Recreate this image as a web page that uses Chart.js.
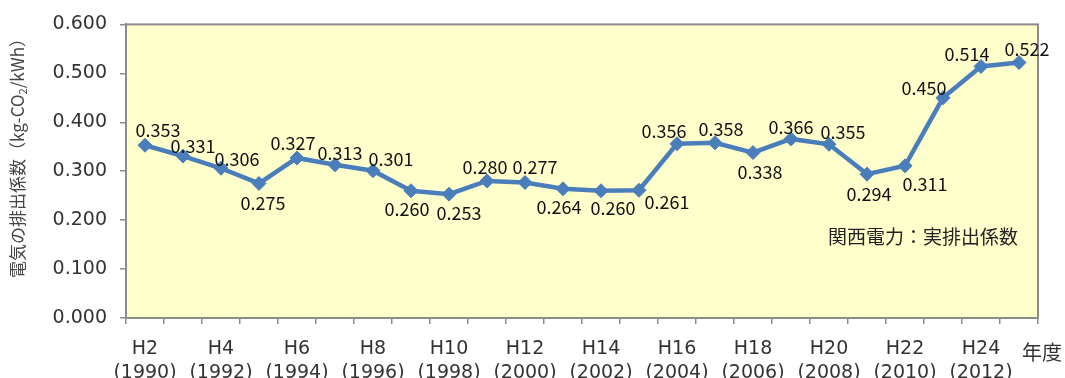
<!DOCTYPE html>
<html>
<head>
<meta charset="utf-8">
<script src="https://cdn.jsdelivr.net/npm/chart.js@4"></script>
<style>
html,body{margin:0;padding:0;background:#fff;}
#wrap{width:1065px;height:378px;}
</style>
</head>
<body>
<div id="wrap"><canvas id="c" width="1065" height="378"></canvas></div>
<script>
// ---- data ----
const eraLabels = ['H2','H3','H4','H5','H6','H7','H8','H9','H10','H11','H12','H13','H14','H15','H16','H17','H18','H19','H20','H21','H22','H23','H24','H25'];
const yearLabels = ['1990','1991','1992','1993','1994','1995','1996','1997','1998','1999','2000','2001','2002','2003','2004','2005','2006','2007','2008','2009','2010','2011','2012','2013'];
const emissionFactor = [0.353,0.331,0.306,0.275,0.327,0.313,0.301,0.260,0.253,0.280,0.277,0.264,0.260,0.261,0.356,0.358,0.338,0.366,0.355,0.294,0.311,0.450,0.514,0.522];
const yTicks = [0,0.1,0.2,0.3,0.4,0.5,0.6];
const seriesName = '関西電力：実排出係数';
const yTitleParts = ['電気の排出係数（kg-CO','2','/kWh）'];
const xUnit = '年度';

// ---- label placement (pixel offsets from each marker, style only) ----
const labelOffsets = [
  [13,-15],[10,-10],[16,-9],[4,20],[-4,-15],[5,-12],[18,-12],[-4,18],[10,19],[-2,-14],
  [10,-15],[-4,18],[12,17],[28,12],[-13,-13],[6,-14],[7,20],[0,-12],[14,-12],[2,20],
  [20,18],[-19,-10],[-14,-12],[8,-13]
];

const decorPlugin = {
  id: 'decor',
  beforeDraw(chart) {
    const {ctx, chartArea: a} = chart;
    ctx.save();
    ctx.fillStyle = '#FFFFCC';
    ctx.fillRect(a.left, a.top, a.right - a.left, a.bottom - a.top);
    ctx.restore();
  },
  afterDraw(chart) {
    const {ctx, chartArea: a} = chart;
    ctx.save();
    ctx.strokeStyle = '#8c8c8c';
    ctx.lineWidth = 2;
    ctx.strokeRect(a.left, a.top, a.right - a.left, a.bottom - a.top);

    // data labels
    const meta = chart.getDatasetMeta(0);
    ctx.fillStyle = '#111';
    ctx.font = '18px "Noto Sans CJK JP", sans-serif';
    ctx.textAlign = 'center';
    ctx.textBaseline = 'middle';
    meta.data.forEach((pt, i) => {
      const o = labelOffsets[i];
      ctx.fillText(emissionFactor[i].toFixed(3), pt.x + o[0], pt.y + o[1]);
    });

    // series name
    ctx.fillStyle = '#222';
    ctx.font = '19px "Noto Sans CJK JP", sans-serif';
    ctx.textAlign = 'right';
    ctx.fillText(seriesName, a.right - 20, 237);

    // x unit
    ctx.fillStyle = '#333';
    ctx.font = '20px "Noto Sans CJK JP", sans-serif';
    ctx.textAlign = 'left';
    ctx.fillText(xUnit, a.right - 16, 352);

    // y title with subscript
    ctx.translate(18, 154);
    ctx.rotate(-Math.PI / 2);
    ctx.fillStyle = '#444';
    const f1 = '17px "Noto Sans CJK JP", sans-serif';
    const f2 = '11px "Noto Sans CJK JP", sans-serif';
    ctx.font = f1;
    const w0 = ctx.measureText(yTitleParts[0]).width;
    const w2 = ctx.measureText(yTitleParts[2]).width;
    ctx.font = f2;
    const w1 = ctx.measureText(yTitleParts[1]).width;
    const total = w0 + w1 + w2;
    let x = -total / 2;
    ctx.textAlign = 'left';
    ctx.textBaseline = 'middle';
    ctx.font = f1;
    ctx.fillText(yTitleParts[0], x, 0); x += w0;
    ctx.font = f2;
    ctx.fillText(yTitleParts[1], x, 5); x += w1;
    ctx.font = f1;
    ctx.fillText(yTitleParts[2], x, 0);
    ctx.restore();
  }
};

new Chart(document.getElementById('c'), {
  type: 'line',
  data: {
    labels: eraLabels,
    datasets: [{
      label: seriesName,
      data: emissionFactor,
      borderColor: '#4A7EBB',
      backgroundColor: '#4A7EBB',
      borderWidth: 4.5,
      pointStyle: 'rectRot',
      pointRadius: 7,
      pointHoverRadius: 7,
      pointBackgroundColor: '#4A7EBB',
      pointBorderColor: '#4A7EBB',
      pointBorderWidth: 1,
      tension: 0,
      fill: false
    }]
  },
  options: {
    responsive: false,
    animation: false,
    devicePixelRatio: 1,
    layout: { padding: { top: 21, right: 27, left: 0, bottom: 0 } },
    plugins: { legend: { display: false }, tooltip: { enabled: false } },
    scales: {
      x: {
        type: 'category',
        offset: true,
        afterFit(s) { s.height = 60; },
        grid: { offset: true, drawOnChartArea: false, drawTicks: true, tickLength: 6, color: '#8c8c8c', lineWidth: 1.5 },
        border: { display: true, color: '#8c8c8c', width: 2 },
        ticks: {
          autoSkip: false, maxRotation: 0, minRotation: 0, padding: 13,
          color: '#333',
          font: { family: '"DejaVu Sans", sans-serif', size: 19, lineHeight: 1.27 },
          callback(v, i) { return i % 2 === 0 ? [eraLabels[i], '(' + yearLabels[i] + ')'] : ''; }
        }
      },
      y: {
        min: 0, max: 0.6,
        afterFit(s) { s.width = 126; },
        afterBuildTicks(s) { s.ticks = yTicks.map(v => ({ value: v })); },
        grid: { drawOnChartArea: false, drawTicks: true, tickLength: 6, color: '#8c8c8c', lineWidth: 1.5 },
        border: { display: true, color: '#8c8c8c', width: 2 },
        ticks: {
          padding: 13, color: '#333',
          font: { family: '"DejaVu Sans", sans-serif', size: 19 },
          callback(v) { return Number(v).toFixed(3); }
        }
      }
    }
  },
  plugins: [decorPlugin]
});
</script>
</body>
</html>
